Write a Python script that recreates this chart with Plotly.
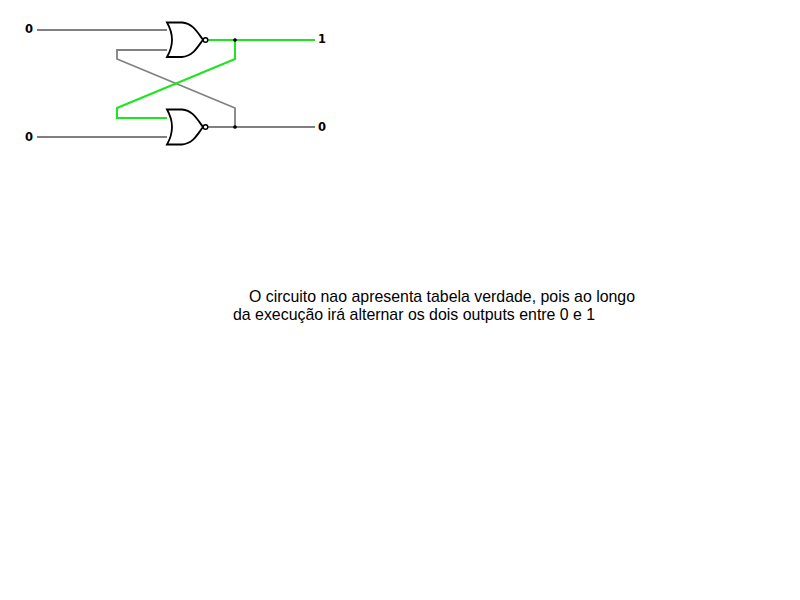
import plotly.graph_objects as go

# ---- data (pixel-space coordinates of the schematic) ----
input_labels = ["0", "0"]
output_labels = ["1", "0"]
label_x_in = [29, 29]
label_y_in = [29, 137]
label_x_out = [322, 322]
label_y_out = [39, 127]

gray_wires_x = [
    [37, 167],            # top input A
    [37, 167],            # bottom input B
    [167, 117, 117, 235, 235],  # feedback from bottom output to top gate
    [207, 315],           # bottom output
]
gray_wires_y = [
    [30, 30],
    [137, 137],
    [50, 50, 59, 108, 127],
    [127, 127],
]
green_wires_x = [
    [207, 315],           # top output
    [235, 235, 117, 117, 167],  # feedback from top output to bottom gate
]
green_wires_y = [
    [40, 40],
    [40, 59, 108, 118, 118],
]
junction_x = [235, 235]
junction_y = [40, 127]
bubble_x = [205.5, 205.5]
bubble_y = [40, 127]
gate_left = [167, 167]
gate_top = [22.5, 109.5]
gate_bottom = [57, 144.5]
gate_tip = [203, 203]

note_lines = [
    "O circuito nao apresenta tabela verdade, pois ao longo",
    "da execução irá alternar os dois outputs entre 0 e 1",
]
note_x = [247, 231]
note_y = [296, 314]

GRAY = "#808080"
GREEN = "#1ee61e"

fig = go.Figure()

for xs, ys in zip(gray_wires_x, gray_wires_y):
    fig.add_trace(go.Scatter(x=xs, y=ys, mode="lines",
                             line=dict(color=GRAY, width=1.8), hoverinfo="skip"))
for xs, ys in zip(green_wires_x, green_wires_y):
    fig.add_trace(go.Scatter(x=xs, y=ys, mode="lines",
                             line=dict(color=GREEN, width=2), hoverinfo="skip"))

shapes = []
for l, t, b, tip in zip(gate_left, gate_top, gate_bottom, gate_tip):
    m = (t + b) / 2
    path = (f"M {l},{t} L {l+15},{t} "
            f"C {l+26},{t+1} {tip-6},{m-8} {tip},{m} "
            f"C {tip-6},{m+8} {l+26},{b-1} {l+15},{b} "
            f"L {l},{b} "
            f"Q {l+10},{m} {l},{t} Z")
    shapes.append(dict(type="path", path=path, xref="x", yref="y",
                       fillcolor="white", line=dict(color="black", width=1.8)))
for bx, by in zip(bubble_x, bubble_y):
    shapes.append(dict(type="circle", xref="x", yref="y",
                       x0=bx - 2.3, x1=bx + 2.3, y0=by - 2.3, y1=by + 2.3,
                       fillcolor="white", line=dict(color="black", width=1.4)))
for jx, jy in zip(junction_x, junction_y):
    shapes.append(dict(type="circle", xref="x", yref="y",
                       x0=jx - 1.6, x1=jx + 1.6, y0=jy - 1.6, y1=jy + 1.6,
                       fillcolor="black", line=dict(color="black", width=0.5)))

annotations = []
for txt, x, y in zip(input_labels, label_x_in, label_y_in):
    annotations.append(dict(x=x, y=y, text=f"<b>{txt}</b>", showarrow=False,
                            xref="x", yref="y", xanchor="center", yanchor="middle",
                            font=dict(family="DejaVu Sans", size=11.5, color="black")))
for txt, x, y in zip(output_labels, label_x_out, label_y_out):
    annotations.append(dict(x=x, y=y, text=f"<b>{txt}</b>", showarrow=False,
                            xref="x", yref="y", xanchor="center", yanchor="middle",
                            font=dict(family="DejaVu Sans", size=11.5, color="black")))
for txt, x, y in zip(note_lines, note_x, note_y):
    annotations.append(dict(x=x, y=y, text=txt, showarrow=False,
                            xref="x", yref="y", xanchor="left", yanchor="middle",
                            font=dict(family="Liberation Sans", size=15.9, color="black")))

# page body has an 8px default margin: offset the axis ranges to compensate
fig.update_layout(
    width=792, height=592,
    margin=dict(l=0, r=0, t=0, b=0),
    paper_bgcolor="white", plot_bgcolor="white",
    showlegend=False,
    shapes=shapes,
    annotations=annotations,
    xaxis=dict(range=[8, 800], visible=False, fixedrange=True),
    yaxis=dict(range=[600, 8], visible=False, fixedrange=True),
)

fig.write_html("out.html", config={"displayModeBar": False})
